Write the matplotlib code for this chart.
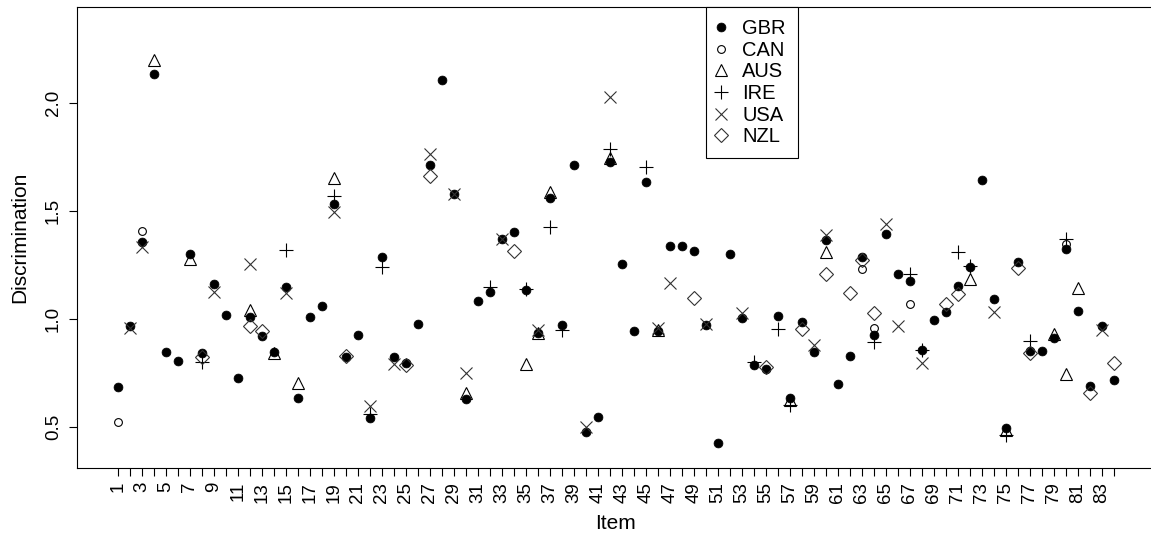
import numpy as np
import matplotlib
matplotlib.use("Agg")
import matplotlib.pyplot as plt

plt.rcParams['font.family'] = ['Liberation Sans', 'DejaVu Sans']

items = np.arange(1, 85)

gbr = [0.687, 0.969, 1.358, 2.133, 0.849, 0.807, 1.301, 0.841, 1.162, 1.018,
       0.729, 1.011, 0.923, 0.846, 1.147, 0.636, 1.008, 1.062, 1.532, 0.826,
       0.926, 0.541, 1.288, 0.826, 0.798, 0.977, 1.712, 2.105, 1.578, 0.629,
       1.083, 1.123, 1.369, 1.401, 1.134, 0.937, 1.558, 0.972, 1.712, 0.476,
       0.548, 1.728, 1.254, 0.946, 1.635, 0.946, 1.339, 1.338, 1.316, 0.972,
       0.428, 1.299, 1.003, 0.787, 0.767, 1.014, 0.633, 0.988, 0.846, 1.365,
       0.698, 0.830, 1.288, 0.926, 1.392, 1.208, 1.176, 0.857, 0.995, 1.034,
       1.153, 1.242, 1.643, 1.091, 0.494, 1.262, 0.852, 0.853, 0.914, 1.324,
       1.038, 0.691, 0.969, 0.718]

can_items = [1, 3, 63, 64, 67, 80]
can_vals = [0.524, 1.408, 1.230, 0.957, 1.069, 1.347]

aus_items = [4, 7, 12, 14, 16, 19, 30, 35, 36, 37, 42, 46, 57, 60, 72, 75, 79, 80, 81]
aus_vals = [2.198, 1.276, 1.042, 0.845, 0.703, 1.654, 0.656, 0.790, 0.935, 1.589,
            1.745, 0.947, 0.625, 1.309, 1.185, 0.485, 0.931, 0.746, 1.145]

ire_items = [8, 15, 19, 22, 23, 32, 35, 37, 38, 42, 45, 54, 56, 57, 64, 67, 68,
             71, 72, 75, 77, 80]
ire_vals = [0.803, 1.319, 1.569, 0.560, 1.239, 1.147, 1.140, 1.424, 0.949, 1.786,
            1.704, 0.803, 0.952, 0.602, 0.895, 1.208, 0.857, 1.311, 1.245, 0.463,
            0.900, 1.369]

usa_items = [2, 3, 9, 12, 15, 19, 22, 24, 27, 29, 30, 33, 36, 40, 42, 46, 47, 50,
             53, 59, 60, 65, 66, 68, 74, 83]
usa_vals = [0.958, 1.334, 1.126, 1.253, 1.122, 1.493, 0.598, 0.790, 1.763, 1.578,
            0.749, 1.369, 0.950, 0.502, 2.028, 0.960, 1.165, 0.975, 1.026, 0.880,
            1.389, 1.439, 0.969, 0.798, 1.034, 0.949]

nzl_items = [8, 12, 13, 20, 25, 27, 34, 49, 55, 58, 60, 62, 63, 64, 70, 71, 76,
             77, 82, 84]
nzl_vals = [0.824, 0.969, 0.944, 0.830, 0.787, 1.661, 1.316, 1.099, 0.780, 0.954,
            1.208, 1.119, 1.273, 1.029, 1.068, 1.114, 1.235, 0.844, 0.656, 0.795]

yticks = [0.5, 1.0, 1.5, 2.0]
ytick_labels = ["0.5", "1.0", "1.5", "2.0"]
xtick_labels = [str(i) if i % 2 == 1 else "" for i in items]

W, H = 1151, 539
fig = plt.figure(figsize=(W / 100, H / 100), dpi=100)
ax = fig.add_axes([77.3 / W, (H - 468) / H, (1153.5 - 77.3) / W, (468 - 7) / H])

lw = 0.8
ax.plot(items, gbr, linestyle='none', marker='o', ms=6.4, mfc='black', mec='black',
        mew=0.5, label='GBR')
ax.plot(can_items, can_vals, linestyle='none', marker='o', ms=5.6, mfc='none',
        mec='black', mew=lw, label='CAN')
ax.plot(aus_items, aus_vals, linestyle='none', marker='^', ms=8.5, mfc='none',
        mec='black', mew=lw, label='AUS')
ax.plot(ire_items, ire_vals, linestyle='none', marker='+', ms=10.5, mfc='none',
        mec='black', mew=lw, label='IRE')
ax.plot(usa_items, usa_vals, linestyle='none', marker='x', ms=8.0, mfc='none',
        mec='#333333', mew=lw, label='USA')
ax.plot(nzl_items, nzl_vals, linestyle='none', marker='D', ms=6.8, mfc='none',
        mec='#333333', mew=lw, label='NZL')

ax.set_xlim(-2.37, 87.32)
ax.set_ylim(0.3108, 2.4431)

ax.set_xticks(items)
ax.set_xticklabels(xtick_labels, rotation=90, fontsize=13.5)
ax.set_yticks(yticks)
ax.set_yticklabels(ytick_labels, rotation=90, va='center', fontsize=13.5)
ax.tick_params(axis='both', direction='out', length=6, width=0.8, color='black')
ax.tick_params(axis='x', pad=4)
ax.tick_params(axis='y', pad=5)

for s in ax.spines.values():
    s.set_linewidth(0.8)
    s.set_color('black')

ax.set_xlabel('Item', fontsize=15, labelpad=8)
ax.set_ylabel('Discrimination', fontsize=15, labelpad=11)

leg = ax.legend(loc='upper left', bbox_to_anchor=(706 / W, (H - 7) / H),
                bbox_transform=fig.transFigure, frameon=True, fancybox=False,
                edgecolor='black', framealpha=1, borderaxespad=0, fontsize=14.5,
                handlelength=0.3, handletextpad=0.9, labelspacing=0.13,
                borderpad=0.6)
leg.get_frame().set_linewidth(0.8)

fig.savefig('out.png', dpi=100)
